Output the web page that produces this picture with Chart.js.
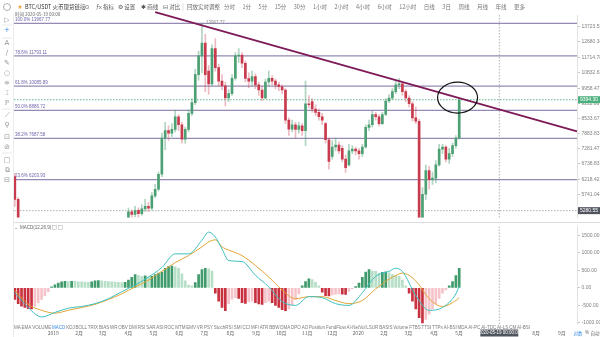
<!DOCTYPE html>
<html>
<head>
<meta charset="utf-8">
<script src="https://cdn.jsdelivr.net/npm/chart.js@4.4.1/dist/chart.umd.min.js"></script>
<style>
  body { margin: 0; background: #fff; }
  #wrap { position: relative; width: 600px; height: 337px; overflow: hidden; background: #fff; }
  #priceChart { position: absolute; left: 0; top: 0; }
  #macdChart { position: absolute; left: 0; top: 222px; }
  #leftBorder { position: absolute; left: 13px; top: 14px; width: 1px; height: 323px; background: #ececec; }
</style>
</head>
<body>
<div id="wrap">
  <canvas id="priceChart" width="600" height="222"></canvas>
  <canvas id="macdChart" width="600" height="115"></canvas>
  <div id="leftBorder"></div>
</div>
<script>
// candles: one bar every 4 days, day 0 = 2019-01-01
var START_DAY = -46;
var STEP = 4;

var opens = [
  6300, 5600, null, null, null, null, null, null, null, null,
  null, null, null, null, null, null, null, null, null, null,
  null, null, null, null, null, null, null, null, null, null,
  null, null, null, null, 5050, 5250, 5180, 5290, 5200, 5330,
  5400, 5350, 5700, 5900, 6380, 7700, 8000, 7900, 8050, 8600,
  8250, 7650, 8050, 8750, 9250, 10700, 11800, 12600, 10900, 10200,
  12250, 11100, 10350, 10100, 9480, 9700, 10500, 11800, 11850, 11350,
  10490, 10350, 10600, 10150, 9880, 9480, 10300, 10500, 10350, 10150,
  10050, 9880, 8450, 8060, 8250, 8050, 8200, 8000, 9200, 9300,
  8950, 8800, 8600, 8300, 7630, 7000, 7350, 7420, 7300, 6900,
  6700, 7200, 7270, 7200, 7100, 7350, 8140, 8250, 8700, 8600,
  8300, 8700, 9330, 9480, 9800, 10150, 10200, 9800, 9480, 9200,
  8550, 8400, 4850, 5750, 6500, 6200, 6250, 6700, 7270, 7350,
  6900, 7100, 7400, 7700
];
var highs = [
  6400, 5650, null, null, null, null, null, null, null, null,
  null, null, null, null, null, null, null, null, null, null,
  null, null, null, null, null, null, null, null, null, null,
  null, null, null, null, 5350, 5300, 5400, 5360, 5450, 5600,
  5520, 5800, 6050, 6450, 7900, 8350, 8200, 8300, 8900, 8700,
  8350, 8150, 8900, 9450, 11000, 12100, 13967.77, 13200, 11200, 12500,
  12900, 11300, 10700, 10300, 9900, 10700, 12000, 12250, 12000, 11500,
  10800, 10900, 10750, 10300, 10050, 10450, 10900, 10650, 10450, 10300,
  10150, 9950, 8550, 8450, 8350, 8350, 8300, 10350, 9600, 9450,
  9150, 8950, 8750, 8350, 7700, 7600, 7700, 7550, 7400, 7050,
  7450, 7400, 7350, 7300, 7450, 8250, 8450, 8850, 8800, 8700,
  8800, 9450, 9650, 9950, 10350, 10500, 10300, 9900, 9600, 9300,
  9050, 8500, 5950, 6700, 6650, 6450, 6850, 7450, 7450, 7400,
  7300, 7500, 7800, 9394.30
];
var lows = [
  5400, 4400, null, null, null, null, null, null, null, null,
  null, null, null, null, null, null, null, null, null, null,
  null, null, null, null, null, null, null, null, null, null,
  null, null, null, null, 4950, 5100, 5120, 5080, 5150, 5250,
  5250, 5300, 5650, 5850, 6300, 7250, 7600, 7750, 7950, 8000,
  7500, 7500, 7950, 8650, 9150, 10400, 10800, 9800, 9650, 10100,
  10900, 10100, 9900, 9100, 9300, 9600, 10400, 11400, 11100, 10300,
  10000, 10100, 9950, 9600, 9350, 9450, 10100, 10150, 9950, 9850,
  9700, 8300, 7800, 7950, 7700, 7900, 7800, 7400, 9000, 8800,
  8650, 8450, 8250, 7500, 6550, 6900, 7200, 7100, 6800, 6440,
  6650, 7100, 7050, 6900, 7000, 7300, 8000, 8150, 8450, 8200,
  8250, 8650, 9250, 9400, 9700, 9950, 9600, 9300, 9050, 8400,
  8300, 3800, 4400, 5600, 5900, 6050, 6100, 6650, 7100, 6800,
  6750, 7000, 7300, 7650
];
var closes = [
  5600, 4700, null, null, null, null, null, null, null, null,
  null, null, null, null, null, null, null, null, null, null,
  null, null, null, null, null, null, null, null, null, null,
  null, null, null, null, 5250, 5180, 5290, 5200, 5330, 5400,
  5350, 5700, 5900, 6380, 7700, 8000, 7900, 8050, 8600, 8250,
  7650, 8050, 8750, 9250, 10700, 11800, 12600, 10700, 10200, 12250,
  11100, 10350, 10100, 9480, 9700, 10500, 11800, 11850, 11350, 10490,
  10350, 10600, 10150, 9880, 9480, 10300, 10500, 10350, 10150, 10050,
  9880, 8450, 8060, 8250, 8050, 8200, 8000, 9200, 9150, 8950,
  8800, 8600, 8450, 7630, 6820, 7350, 7420, 7200, 6900, 6600,
  7200, 7270, 7200, 7100, 7350, 8140, 8250, 8700, 8600, 8300,
  8700, 9330, 9480, 9800, 10150, 10200, 9800, 9480, 9200, 8550,
  8400, 4850, 5750, 6500, 6200, 6250, 6700, 7270, 7350, 6900,
  7100, 7400, 7700, 9394.30
];

// MACD(12,26,9) histogram, one value per candle slot
var macdHist = [
  -330, -450, -520, -560, -590, -600, -520, -430, -330, -220,
  -110, 30, 90, 140, 170, 185, 180, 190, 185, 175,
  170, 165, 160, 175, 200, 210, 200, 190, 180, 175,
  165, 160, 150, 155, 220, 300, 380, 360, 330, 340,
  310, 330, 380, 420, 450, 560, 610, 620, 600, 560,
  400, 200, 80, 60, 150, 380, 520, 560, 540, 480,
  -150, -380, -560, -650, -450, -320, -280, -300, -420, -440,
  -400, -380, -420, -460, -470, -420, -380, -420, -500, -560,
  -620, -650, -600, -480, -330, -170, 60, 180, 260, 240,
  160, 60, -120, -220, -230, -200, -180, -170, -180, -190,
  -100, -20, 40, 140, 300, 450, 520, 480, 470, 420,
  440, 460, 430, 380, 350, 330, 220, 60, -150, -380,
  -600, -850, -1000, -900, -750, -600, -450, -300, -150, -60,
  60, 180, 350, 560
];
// DIF / DEA sampled at these candle slots
var lineSlots = [0, 4, 8, 12, 16, 20, 24, 28, 32, 36, 40, 44, 48, 52, 56, 58, 60, 62, 64,
  68, 72, 76, 80, 84, 88, 92, 96, 100, 104, 108, 112, 114, 116, 120, 124, 128, 132, 133];
var macdDif = [-140, -560, -830, -700, -580, -530, -450, -310, -110, 80, 310, 580, 970, 970,
  1360, 1590, 1450, 1110, 780, 750, 360, 30, -390, -500, -250, -280, -450, -500, -140, 330,
  470, 560, 470, -220, -640, -560, -170, 60];
var macdDea = [-80, -470, -640, -720, -640, -560, -470, -330, -170, 30, 220, 470, 720, 920,
  1170, 1310, 1370, 1170, 1080, 920, 640, 310, -60, -310, -250, -250, -360, -450, -360, -30,
  250, 350, 420, 200, -310, -530, -360, -280];

// fibonacci retracement levels
var fibRatios = [100.0, 78.6, 61.8, 50.0, 38.2, 23.6];
var fibLevels = [13967.77, 11793.11, 10085.89, 8886.72, 7687.58, 6203.93];

// axis ticks
var priceTicks = [13723.52, 12680.34, 11714.78, 10832.62, 9958.47, 9211.00, 8533.67,
  7883.83, 7281.47, 6738.83, 6218.42, 5741.04];
var macdTicks = [-1000, -500, 0, 500, 1000, 1500];
var monthDays = [0, 31, 59, 90, 120, 151, 181, 212, 243, 273, 304, 334, 365, 396, 425, 456,
  486, 517, 547, 578, 609];
var monthLabels = ['2019', '2月', '3月', '4月', '5月', '6月', '7月', '8月', '9月', '10月', '11月',
  '12月', '2020', '2月', '3月', '4月', '5月', '6月', '7月', '8月', '9月'];

// drawings on the chart
var trendLine = [{ x: 122, y: 14810 }, { x: 627, y: 7971 }];
var circleMark = { x: 484, y: 9497 };
var lastPrice = 9394.30;
var cursorPrice = 5280.55;
var cursorDay = 534;
var cursorTime = '2020-05-19 00:00:00';
var peakPrice = 13967.77;

var X_MIN = -47, X_MAX = 627;
var P_MIN = 5096, P_MAX = 14585;

var UP = '#4d9f74', DOWN = '#c83b4c';
var UP_WICK = 'rgba(77,159,116,0.45)', DOWN_WICK = 'rgba(200,59,76,0.35)';

Chart.defaults.font.family = '"Liberation Sans", Arial, sans-serif';
Chart.defaults.animation = false;

function slotDay(i) { return START_DAY + STEP * i; }

var bodies = [], wicks = [];
opens.forEach(function (o, i) {
  if (o === null) return;
  var up = closes[i] >= o;
  bodies.push({ x: slotDay(i), y: [o, closes[i]], up: up });
  wicks.push({ x: slotDay(i), y: [lows[i], highs[i]], up: up });
});

function flatLine(v, color, dash, width) {
  return {
    type: 'line', order: 4,
    data: [{ x: X_MIN, y: v }, { x: X_MAX, y: v }],
    borderColor: color, borderWidth: width, borderDash: dash || [],
    pointRadius: 0
  };
}

var fibSets = fibLevels.map(function (v) {
  return flatLine(v, 'rgba(124,108,160,0.8)', null, 1.3);
});

function drawText(ctx, txt, x, y, font, color, align, base) {
  ctx.font = font;
  ctx.fillStyle = color;
  ctx.textAlign = align || 'left';
  ctx.textBaseline = base || 'middle';
  ctx.fillText(txt, x, y);
}

function axisBox(ctx, txt, y, fill) {
  ctx.fillStyle = fill;
  ctx.fillRect(578, y - 3.5, 22, 7);
  drawText(ctx, txt, 589, y + 0.3, '5px "Liberation Sans"', '#fff', 'center');
}

var priceDecor = {
  id: 'priceDecor',
  beforeDraw: function (chart) {
    var ctx = chart.ctx;
    ctx.save();
    var cjk = '5.5px "Noto Sans CJK SC"';
    // top toolbar
    ctx.strokeStyle = '#999';
    ctx.lineWidth = 0.8;
    ctx.beginPath(); ctx.arc(7, 7, 3.5, 0, Math.PI * 2); ctx.stroke();
    drawText(ctx, '★', 20, 7, '6px "DejaVu Sans"', '#f0a43a', 'center');
    drawText(ctx, 'BTC/USDT 火币现货链接', 25, 7, cjk, '#333');
    drawText(ctx, '⊙', 87, 7, '6px "DejaVu Sans"', '#666', 'center');
    drawText(ctx, 'ƒx 指标', 96, 7, cjk, '#555');
    drawText(ctx, '⚙ 设置', 118, 7, cjk, '#555');
    drawText(ctx, '✱ 画线', 141, 7, cjk, '#555');
    drawText(ctx, '⊟ 对比', 163, 7, cjk, '#555');
    drawText(ctx, '回放实时调整', 187, 7, cjk, '#666');
    ctx.strokeStyle = '#ddd';
    [82, 183, 219].forEach(function (x) {
      ctx.beginPath(); ctx.moveTo(x, 3); ctx.lineTo(x, 11); ctx.stroke();
    });
    var tabs = ['分时', '1分', '5分', '15分', '30分', '1小时', '2小时', '4小时', '6小时',
      '12小时', '日线', '3日', '周线', '月线', '年线', '更多'];
    ctx.font = cjk;
    var widths = tabs.map(function (t) { return ctx.measureText(t).width; });
    var total = widths.reduce(function (a, b) { return a + b; }, 0);
    var gap = (525 - 224 - total) / (tabs.length - 1);
    var tx = 224;
    tabs.forEach(function (t, k) {
      drawText(ctx, t, tx, 7, cjk, '#777');
      tx += widths[k] + gap;
    });
    // left tool column
    var icons = [['▷', 20], ['+', 30], ['A', 43], ['∕', 53], ['✎', 63], ['○', 73], ['≑', 83],
      ['⌶', 93], ['ℙ', 103], ['⟋', 115], ['⚲', 125], ['⊡', 137], ['⊘', 147], ['▢', 160],
      ['⧉', 170], ['⊟', 180]];
    icons.forEach(function (ic) {
      drawText(ctx, ic[0], 7, ic[1], '7px "DejaVu Sans"', ic[0] === '+' ? '#3a8ee6' : '#949494', 'center');
    });
    ctx.strokeStyle = '#e4e4e4';
    [25, 38, 109, 153].forEach(function (y) {
      ctx.beginPath(); ctx.moveTo(2, y); ctx.lineTo(12, y); ctx.stroke();
    });
    drawText(ctx, '时间 2020-05-19 00:00', 15, 14.5, '4.5px "Noto Sans CJK SC"', '#666');
    ctx.restore();
  },
  afterDatasetsDraw: function (chart) {
    var ctx = chart.ctx, xs = chart.scales.x, ys = chart.scales.y;
    ctx.save();
    fibLevels.forEach(function (v, k) {
      var y = ys.getPixelForValue(v);
      drawText(ctx, fibRatios[k].toFixed(1) + '% ' + v.toFixed(2), 15, y - 1.2,
        '4.5px "Liberation Sans"', '#6f64aa', 'left', 'bottom');
    });
    // label at the top of the peak candle
    var peakIdx = highs.indexOf(peakPrice);
    drawText(ctx, peakPrice.toFixed(2), xs.getPixelForValue(slotDay(peakIdx)) + 4,
      ys.getPixelForValue(peakPrice) - 1, '4.5px "Liberation Sans"', '#888');
    // hand-drawn circle round the breakout
    ctx.strokeStyle = '#111';
    ctx.lineWidth = 1.2;
    ctx.beginPath();
    ctx.ellipse(xs.getPixelForValue(circleMark.x), ys.getPixelForValue(circleMark.y), 20, 15.5, 0, 0, Math.PI * 2);
    ctx.stroke();
    ctx.restore();
  },
  afterDraw: function (chart) {
    var ctx = chart.ctx, ys = chart.scales.y;
    ctx.save();
    axisBox(ctx, lastPrice.toFixed(2), ys.getPixelForValue(lastPrice), '#4caf7d');
    axisBox(ctx, cursorPrice.toFixed(2), ys.getPixelForValue(cursorPrice), '#50555e');
    ctx.restore();
  }
};

new Chart(document.getElementById('priceChart'), {
  type: 'bar',
  data: {
    datasets: [
      {
        type: 'line', order: 0, data: trendLine, clip: false,
        borderColor: '#7d1a57', borderWidth: 1.8, pointRadius: 0
      },
      {
        order: 1, data: bodies, grouped: false, barThickness: 2,
        backgroundColor: function (c) { return c.raw && c.raw.up ? UP : DOWN; }
      },
      {
        order: 2, data: wicks, grouped: false, barThickness: 1,
        backgroundColor: function (c) { return c.raw && c.raw.up ? UP_WICK : DOWN_WICK; }
      },
      flatLine(lastPrice, '#4caf7d', [1.5, 1.5], 0.9),
      flatLine(cursorPrice, '#9a9a9a', [1.5, 1.5], 0.8),
      {
        type: 'line', order: 3,
        data: [{ x: cursorDay, y: P_MIN }, { x: cursorDay, y: P_MAX }],
        borderColor: '#a0a0a0', borderWidth: 0.8, borderDash: [1.5, 1.5], pointRadius: 0
      }
    ].concat(fibSets)
  },
  options: {
    responsive: false,
    layout: { padding: { left: 14, top: 15, right: 0, bottom: 0 } },
    plugins: { legend: { display: false }, tooltip: { enabled: false } },
    scales: {
      x: { type: 'linear', min: X_MIN, max: X_MAX, offset: false, display: false },
      y: {
        type: 'logarithmic', position: 'right', min: P_MIN, max: P_MAX,
        afterBuildTicks: function (s) { s.ticks = priceTicks.map(function (v) { return { value: v }; }); },
        afterFit: function (s) { s.width = 23; },
        grid: { drawOnChartArea: false, drawTicks: true, tickLength: 3, color: '#c8c8c8' },
        border: { color: '#e2e2e2' },
        ticks: {
          autoSkip: false, padding: 1.5, color: '#808080', font: { size: 5 },
          callback: function (v) { return Number(v).toFixed(2); }
        }
      }
    }
  },
  plugins: [priceDecor]
});

// ---------- MACD panel ----------
var histColors = macdHist.map(function (v, i) {
  var prev = i > 0 ? macdHist[i - 1] : 0;
  if (v >= 0) return v >= prev ? '#3f9b6b' : '#b7dfc7';
  return v <= prev ? '#c8313f' : '#f5c4ca';
});
var histData = macdHist.map(function (v, i) { return { x: slotDay(i), y: v }; });
var difData = lineSlots.map(function (s, k) { return { x: slotDay(s), y: macdDif[k] }; });
var deaData = lineSlots.map(function (s, k) { return { x: slotDay(s), y: macdDea[k] }; });

var tabNames = ['MA', 'EMA', 'VOLUME', 'MACD', 'KDJ', 'BOLL', 'TRIX', 'BIAS', 'WR', 'OBV', 'DMI',
  'RSI', 'SAR', 'ASI', 'ROC', 'MTM', 'EMV', 'VR', 'PSY', 'StochRSI', 'SMI', 'CCI', 'MFI', 'ATR',
  'BBW', 'DMA', 'DPO', 'AO', 'Position', 'FundFlow', 'AI-NetVol', 'LSUR', 'BASIS', 'Volume',
  'FTBS', 'TTSI', 'TTPs', 'AI-BSI', 'MDA', 'AI-PC', 'AI-TDC', 'AI-LS', 'CM', 'AI-BSI'];

var macdDecor = {
  id: 'macdDecor',
  afterDraw: function (chart) {
    var ctx = chart.ctx, xs = chart.scales.x;
    ctx.save();
    ctx.strokeStyle = '#dcdcdc';
    ctx.lineWidth = 1;
    ctx.beginPath(); ctx.moveTo(14, 0.5); ctx.lineTo(600, 0.5); ctx.stroke();
    drawText(ctx, '⌄', 16, 5.5, '5px "DejaVu Sans"', '#777', 'center');
    drawText(ctx, 'MACD(12,26,9)', 20, 6, '4.5px "Liberation Sans"', '#666');
    ctx.strokeStyle = '#bbb';
    ctx.lineWidth = 0.6;
    ctx.strokeRect(52.5, 3.5, 4, 4);
    ctx.strokeRect(58.5, 3.5, 4, 4);
    // indicator tab row
    ctx.font = '4.5px "Liberation Sans"';
    var w = tabNames.map(function (t) { return ctx.measureText(t).width; });
    var tot = w.reduce(function (a, b) { return a + b; }, 0);
    var gap = (530 - 14 - tot) / (tabNames.length - 1);
    var x = 14;
    tabNames.forEach(function (t, k) {
      drawText(ctx, t, x, 105.5, '4.5px "Liberation Sans"', t === 'MACD' ? '#3a8ee6' : '#7a7a7a');
      x += w[k] + gap;
    });
    // cursor time box
    var cx = xs.getPixelForValue(cursorDay);
    ctx.fillStyle = '#50555e';
    ctx.fillRect(cx - 19, 107.5, 38, 7);
    drawText(ctx, cursorTime, cx, 111.2, '4.5px "Liberation Sans"', '#fff', 'center');
    // scale mode switches
    drawText(ctx, '对数', 578, 111, '4.5px "Noto Sans CJK SC"', '#3a8ee6', 'center');
    drawText(ctx, '%', 587, 111, '4.5px "Liberation Sans"', '#666', 'center');
    drawText(ctx, '自动', 595, 111, '4.5px "Noto Sans CJK SC"', '#666', 'center');
    ctx.restore();
  }
};

new Chart(document.getElementById('macdChart'), {
  type: 'bar',
  data: {
    datasets: [
      {
        type: 'line', order: 0, data: difData, borderColor: '#3fbfc0', borderWidth: 1,
        pointRadius: 0, cubicInterpolationMode: 'monotone'
      },
      {
        type: 'line', order: 0, data: deaData, borderColor: '#e2a537', borderWidth: 1,
        pointRadius: 0, cubicInterpolationMode: 'monotone'
      },
      { order: 1, data: histData, barThickness: 2, backgroundColor: histColors },
      {
        type: 'line', order: 2,
        data: [{ x: cursorDay, y: -1030 }, { x: cursorDay, y: 1750 }],
        borderColor: '#a0a0a0', borderWidth: 0.8, borderDash: [1.5, 1.5], pointRadius: 0
      }
    ]
  },
  options: {
    responsive: false,
    layout: { padding: { left: 14, top: 2, right: 0, bottom: 0 } },
    plugins: { legend: { display: false }, tooltip: { enabled: false } },
    scales: {
      x: {
        type: 'linear', min: X_MIN, max: X_MAX, offset: false,
        afterBuildTicks: function (s) { s.ticks = monthDays.map(function (d) { return { value: d }; }); },
        afterFit: function (s) { s.height = 13; },
        grid: { display: false, drawTicks: false },
        border: { display: false },
        ticks: {
          autoSkip: false, maxRotation: 0, padding: 6, color: '#666',
          font: { size: 5, family: '"Noto Sans CJK SC"' },
          callback: function (v) { return monthLabels[monthDays.indexOf(v)]; }
        }
      },
      y: {
        position: 'right', min: -1030, max: 1750,
        afterBuildTicks: function (s) { s.ticks = macdTicks.map(function (v) { return { value: v }; }); },
        afterFit: function (s) { s.width = 23; },
        grid: { drawOnChartArea: false, drawTicks: true, tickLength: 3, color: '#c8c8c8' },
        border: { color: '#e2e2e2' },
        ticks: {
          autoSkip: false, padding: 1.5, color: '#808080', font: { size: 5 },
          callback: function (v) { return Number(v).toFixed(2); }
        }
      }
    }
  },
  plugins: [macdDecor]
});
</script>
</body>
</html>
